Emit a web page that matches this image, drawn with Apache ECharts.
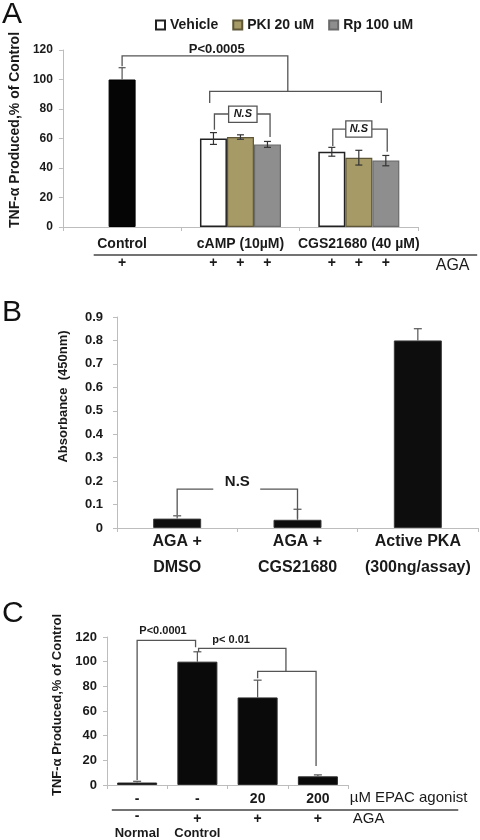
<!DOCTYPE html>
<html><head><meta charset="utf-8">
<script src="https://cdn.jsdelivr.net/npm/echarts@6/dist/echarts.min.js"></script>
<style>html,body{margin:0;padding:0;background:#fff}#c{width:480px;height:840px}</style>
</head><body><div id="c"></div>
<script>
// ---------- Panel A data ----------
const aCategories = ['Control', 'cAMP (10µM)', 'CGS21680 (40 µM)'];
const aSeriesNames = ['Vehicle', 'PKI 20 uM', 'Rp 100 uM'];
const aControl = [100, '-', '-'];
const aControlErr = [8, 0, 0];
const aVehicle = ['-', 60, 51];
const aVehicleErr = [0, 4, 3];
const aPKI = ['-', 61, 47];
const aPKIErr = [0, 1.5, 5];
const aRp = ['-', 56, 45];
const aRpErr = [0, 2, 3.5];
const aAGARow = [['+'], ['+', '+', '+'], ['+', '+', '+']];
// ---------- Panel B data ----------
const bCategories = ['AGA +\nDMSO', 'AGA +\nCGS21680', 'Active PKA\n(300ng/assay)'];
const bValues = [0.04, 0.035, 0.8];
const bErr = [0.012, 0.045, 0.05];
// ---------- Panel C data ----------
const cCategories = ['-', '-', '20', '200'];
const cValues = [2, 100, 71, 7];
const cErr = [1, 8, 14, 1.2];
const cAGARow = ['-', '+', '+', '+'];
const cGroupLabels = ['Normal', 'Control', '', ''];

const FONT = '"Liberation Sans", Arial, Helvetica, sans-serif';
const TXT = '#1a1a1a';
const LINE = '#555';
const AXC = '#bdbdbd';
const A_BAR = 27;

const chart = echarts.init(document.getElementById('c'));

function errData(vals, errs) {
  const out = [];
  vals.forEach((v, i) => { if (v !== '-' && v != null) out.push([i, v, errs[i]]); });
  return out;
}
function errSeries(xi, yi, data, offset, capW, color, upOnly) {
  return {
    type: 'custom', xAxisIndex: xi, yAxisIndex: yi, z: 5, silent: true, clip: false,
    data: data, encode: { x: 0, y: 1 },
    renderItem(params, api) {
      const c = api.value(0), v = api.value(1), e = api.value(2);
      const t = api.coord([c, v + e]), m = api.coord([c, v]), b = api.coord([c, v - e]);
      const x = t[0] + offset;
      const yb = upOnly ? m[1] : b[1];
      const st = { stroke: color, lineWidth: 1.2 };
      const ch = [
        { type: 'line', shape: { x1: x, y1: t[1], x2: x, y2: yb }, style: st },
        { type: 'line', shape: { x1: x - capW / 2, y1: t[1], x2: x + capW / 2, y2: t[1] }, style: st }
      ];
      if (!upOnly) ch.push({ type: 'line', shape: { x1: x - capW / 2, y1: b[1], x2: x + capW / 2, y2: b[1] }, style: st });
      return { type: 'group', children: ch };
    }
  };
}
function annSeries(xi, yi, draw) {
  return {
    type: 'custom', xAxisIndex: xi, yAxisIndex: yi, z: 6, silent: true, clip: false,
    data: [[0, 0]], encode: { x: 0, y: 1 },
    renderItem(params, api) {
      const band = api.coord([1, 0])[0] - api.coord([0, 0])[0];
      const P = (cat, frac, val) => { const p = api.coord([cat, val]); return [p[0] + frac * band, p[1]]; };
      const y0 = api.coord([0, 0])[1];
      return { type: 'group', children: draw(P, y0, band) };
    }
  };
}
const pl = (pts, w) => ({ type: 'polyline', shape: { points: pts }, style: { stroke: LINE, lineWidth: w || 1.3, fill: null } });
const tx = (p, text, size, weight, align, style) => ({
  type: 'text', x: p[0], y: p[1],
  style: Object.assign({ text: text, fill: TXT, font: (style || 'normal') + ' ' + (weight || 'bold') + ' ' + size + 'px ' + FONT, align: align || 'center', verticalAlign: 'middle' })
});

function yAxisBase(grid, min, max, interval, labelSize, margin, name, nameGap, namePad, nameSize) {
  return {
    type: 'value', gridIndex: grid, min: min, max: max, interval: interval,
    axisLine: { show: true, lineStyle: { color: AXC, width: 1 } },
    axisTick: { show: true, length: 4, lineStyle: { color: AXC } },
    splitLine: { show: false },
    axisLabel: { color: TXT, fontWeight: 'bold', fontSize: labelSize, fontFamily: FONT, margin: margin },
    name: name, nameLocation: 'middle', nameGap: nameGap, nameRotate: 90,
    nameTextStyle: { color: TXT, fontWeight: 'bold', fontSize: nameSize, fontFamily: FONT, padding: [0, 0, 0, namePad] }
  };
}
function xAxisBase(grid, data, labelSize, margin, lineHeight) {
  return {
    type: 'category', gridIndex: grid, data: data,
    axisLine: { show: true, lineStyle: { color: AXC, width: 1 } },
    axisTick: { show: true, length: 4, lineStyle: { color: AXC } },
    axisLabel: { interval: 0, color: TXT, fontWeight: 'bold', fontSize: labelSize, fontFamily: FONT, margin: margin, lineHeight: lineHeight },
    splitLine: { show: false }
  };
}

const option = {
  animation: false,
  backgroundColor: '#fff',
  textStyle: { fontFamily: FONT },
  grid: [
    { left: 50, right: 62, top: 50, bottom: 613, containLabel: false },
    { left: 117, right: 2, top: 317, bottom: 312, containLabel: false },
    { left: 107, right: 132, top: 637, bottom: 55, containLabel: false }
  ],
  legend: {
    data: aSeriesNames, left: 150, top: 13, icon: 'rect', itemWidth: 9, itemHeight: 9, itemGap: 14,
    textStyle: { color: TXT, fontWeight: 'bold', fontSize: 14, fontFamily: FONT }
  },
  xAxis: [
    xAxisBase(0, aCategories, 14, 10),
    { type: 'category', gridIndex: 0, data: aCategories, show: false },
    xAxisBase(1, bCategories, 16, 1, 26),
    xAxisBase(2, cCategories, 14, 7)
  ],
  yAxis: [
    yAxisBase(0, 0, 120, 20, 12, 10, 'TNF-α Produced,% of Control', 32, 17, 14),
    yAxisBase(1, 0, 0.9, 0.1, 13, 14, 'Absorbance  (450nm)', 47, 52, 13),
    yAxisBase(2, 0, 120, 20, 13, 10, 'TNF-α Produced,% of Control', 39, 12, 13)
  ],
  graphic: [
    { type: 'text', left: 2, top: 0, style: { text: 'A', font: 'normal 30px ' + FONT, fill: '#111' } },
    { type: 'text', left: 2, top: 298, style: { text: 'B', font: 'normal 30px ' + FONT, fill: '#111' } },
    { type: 'text', left: 2, top: 599, style: { text: 'C', font: 'normal 30px ' + FONT, fill: '#111' } }
  ],
  series: [
    // Panel A
    { type: 'bar', name: 'Control', xAxisIndex: 1, yAxisIndex: 0, data: aControl, barWidth: A_BAR,
      itemStyle: { color: '#050505', borderColor: '#000', borderWidth: 1 } },
    { type: 'bar', name: aSeriesNames[0], xAxisIndex: 0, yAxisIndex: 0, data: aVehicle, barWidth: A_BAR, barGap: '0%',
      itemStyle: { color: '#ffffff', borderColor: '#222', borderWidth: 1.5 } },
    { type: 'bar', name: aSeriesNames[1], xAxisIndex: 0, yAxisIndex: 0, data: aPKI, barWidth: A_BAR, barGap: '0%',
      itemStyle: { color: '#A69A66', borderColor: '#5e5636', borderWidth: 1.2 } },
    { type: 'bar', name: aSeriesNames[2], xAxisIndex: 0, yAxisIndex: 0, data: aRp, barWidth: A_BAR, barGap: '0%',
      itemStyle: { color: '#8E8E8E', borderColor: '#6a6a6a', borderWidth: 1.2 } },
    errSeries(1, 0, errData(aControl, aControlErr), 0, 7, '#555', true),
    errSeries(0, 0, errData(aVehicle, aVehicleErr), -A_BAR, 7, '#333', false),
    errSeries(0, 0, errData(aPKI, aPKIErr), 0, 7, '#333', false),
    errSeries(0, 0, errData(aRp, aRpErr), A_BAR, 7, '#333', false),
    annSeries(0, 0, function (P, y0, band) {
      const ch = [];
      ch.push(pl([P(0, 0, 109), P(0, 0, 116), P(1, 0.4, 116), P(1, 0.4, 92)]));
      ch.push(pl([P(1, -0.26, 84), P(1, -0.26, 92), P(2, 0.19, 92), P(2, 0.19, 84)]));
      ch.push(tx(P(1, -0.2, 120.7), 'P<0.0005', 13));
      // N.S cAMP
      ch.push(pl([P(1, -0.22, 66), P(1, -0.22, 76.6), P(1, -0.1, 76.6)]));
      ch.push(pl([P(1, 0.14, 76.6), P(1, 0.25, 76.6), P(1, 0.25, 61)]));
      let a = P(1, -0.1, 82), b = P(1, 0.14, 71);
      ch.push({ type: 'rect', shape: { x: a[0], y: a[1], width: b[0] - a[0], height: b[1] - a[1] }, style: { fill: '#fff', stroke: LINE, lineWidth: 1.3 } });
      ch.push(tx([(a[0] + b[0]) / 2, (a[1] + b[1]) / 2], 'N.S', 11, 'bold', 'center', 'italic'));
      // N.S CGS
      ch.push(pl([P(2, -0.22, 55), P(2, -0.22, 66.4), P(2, -0.11, 66.4)]));
      ch.push(pl([P(2, 0.11, 66.4), P(2, 0.24, 66.4), P(2, 0.24, 51)]));
      a = P(2, -0.11, 72); b = P(2, 0.11, 61);
      ch.push({ type: 'rect', shape: { x: a[0], y: a[1], width: b[0] - a[0], height: b[1] - a[1] }, style: { fill: '#fff', stroke: LINE, lineWidth: 1.3 } });
      ch.push(tx([(a[0] + b[0]) / 2, (a[1] + b[1]) / 2], 'N.S', 11, 'bold', 'center', 'italic'));
      // AGA row
      const l0 = P(0, -0.24, 0), l1 = P(2, 1.0, 0);
      ch.push({ type: 'line', shape: { x1: l0[0], y1: y0 + 28, x2: l1[0], y2: y0 + 28 }, style: { stroke: '#444', lineWidth: 1.3 } });
      aAGARow.forEach((row, ci) => {
        row.forEach((s, k) => {
          const off = row.length === 1 ? 0 : (k - 1) * A_BAR / band;
          const p = P(ci, off, 0);
          ch.push(tx([p[0], y0 + 36], s, 14));
        });
      });
      ch.push(tx([P(2, 0.65, 0)[0], y0 + 39], 'AGA', 16, 'normal', 'left'));
      return ch;
    }),
    // Panel B
    { type: 'bar', name: 'Absorbance', xAxisIndex: 2, yAxisIndex: 1, data: bValues, barWidth: 48,
      itemStyle: { color: '#0d0d0d', borderColor: '#3a3a3a', borderWidth: 1 } },
    errSeries(2, 1, errData(bValues, bErr), 0, 8, '#555', true),
    annSeries(2, 1, function (P) {
      return [
        pl([P(0, 0, 0.055), P(0, 0, 0.166), P(0, 0.3, 0.166)]),
        pl([P(1, -0.31, 0.166), P(1, 0, 0.166), P(1, 0, 0.04)]),
        tx(P(0, 0.5, 0.196), 'N.S', 15)
      ];
    }),
    // Panel C
    { type: 'bar', name: 'TNF C', xAxisIndex: 3, yAxisIndex: 2, data: cValues, barWidth: 40,
      itemStyle: { color: '#0a0a0a', borderColor: '#2a2a2a', borderWidth: 1 } },
    errSeries(3, 2, errData(cValues, cErr), 0, 8, '#555', true),
    annSeries(3, 2, function (P, y0) {
      const ch = [
        pl([P(0, 0, 4), P(0, 0, 117.3), P(1, -0.03, 117.3), P(1, -0.03, 111.6)]),
        tx(P(0, 0.43, 124.6), 'P<0.0001', 11),
        pl([P(1, 0.02, 108), P(1, 0.02, 110.8), P(2, 0.47, 110.8), P(2, 0.47, 92.2)]),
        pl([P(2, 0, 86.6), P(2, 0, 92.2), P(3, -0.03, 92.2), P(3, -0.03, 15.4)]),
        tx(P(1, 0.56, 117.3), 'p< 0.01', 11)
      ];
      ch.push(tx([P(3, 0.53, 0)[0], y0 + 13], 'µM EPAC agonist', 15, 'normal', 'left'));
      const l0 = P(0, -0.42, 0), l1 = P(3, 2.33, 0);
      ch.push({ type: 'line', shape: { x1: l0[0], y1: y0 + 25, x2: l1[0], y2: y0 + 25 }, style: { stroke: '#444', lineWidth: 1.3 } });
      cAGARow.forEach((s, i) => ch.push(tx([P(i, 0, 0)[0], y0 + (s === '-' ? 31 : 34)], s, 14)));
      ch.push(tx([P(3, 0.58, 0)[0], y0 + 34], 'AGA', 15, 'normal', 'left'));
      cGroupLabels.forEach((s, i) => { if (s) ch.push(tx([P(i, 0, 0)[0], y0 + 48], s, 13)); });
      return ch;
    })
  ]
};
chart.setOption(option);
</script>
</body></html>
